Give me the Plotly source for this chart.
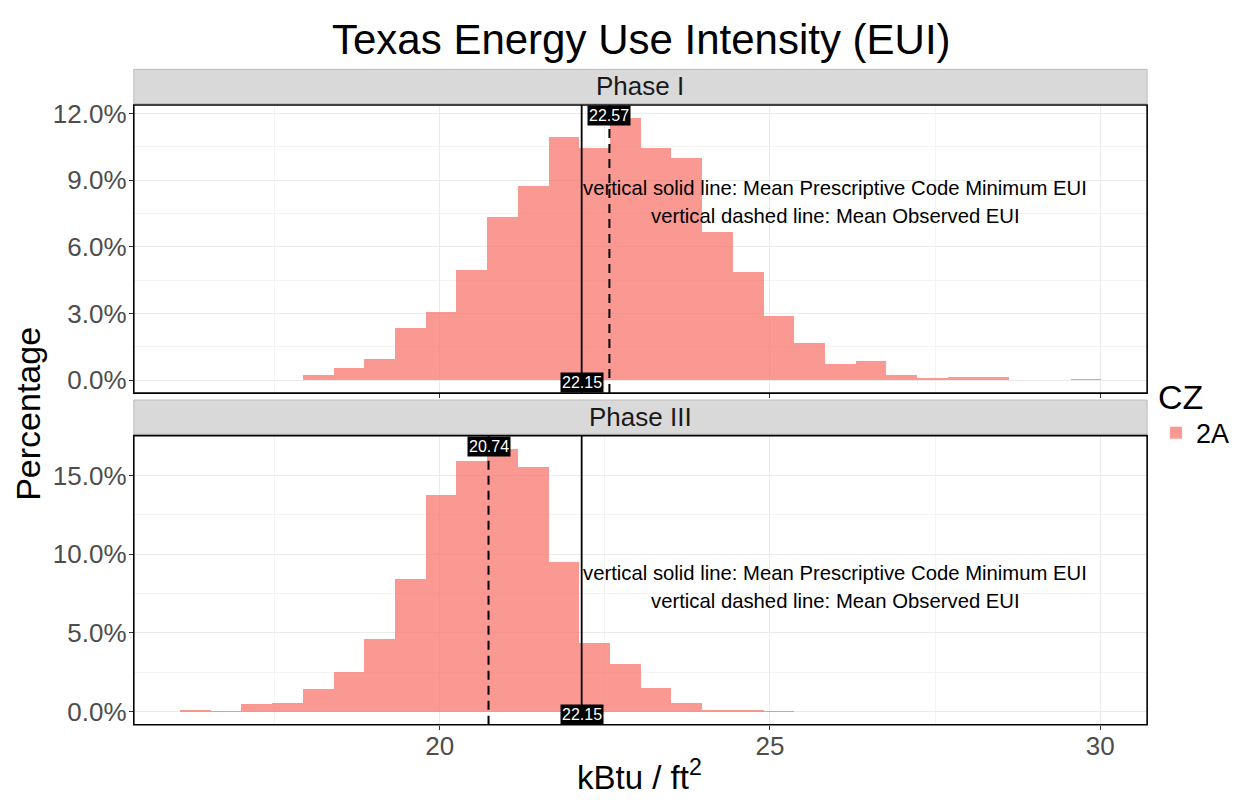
import plotly.graph_objects as go
from plotly.subplots import make_subplots

# ---- data ----
bin_centers = [16.298, 16.763, 17.228, 17.693, 18.158, 18.623, 19.088, 19.553, 20.018, 20.483,
               20.948, 21.413, 21.878, 22.343, 22.808, 23.273, 23.738, 24.203, 24.668, 25.133,
               25.598, 26.063, 26.528, 26.993, 27.458, 27.923, 28.388, 28.853, 29.318, 29.783]
bin_width = 0.465

phase1_pct = [0, 0, 0, 0, 0.21, 0.54, 0.94, 2.35, 3.08, 4.94,
              7.33, 8.73, 10.94, 10.46, 11.80, 10.47, 9.99, 6.67, 4.87, 2.88,
              1.65, 0.74, 0.87, 0.21, 0.07, 0.15, 0.15, 0, 0, 0.06]
phase3_pct = [0.13, 0.06, 0.50, 0.54, 1.46, 2.51, 4.66, 8.44, 13.81, 15.97,
              16.70, 15.57, 9.51, 4.39, 3.05, 1.50, 0.59, 0.10, 0.10, 0.05,
              0, 0, 0, 0, 0, 0, 0, 0, 0, 0]

panel_names = ["Phase I", "Phase III"]
code_min_eui = [22.15, 22.15]
observed_eui = [22.57, 20.74]
y_ticks_p1 = [0, 0.03, 0.06, 0.09, 0.12]
y_ticks_p3 = [0, 0.05, 0.10, 0.15]
x_ticks = [20, 25, 30]
legend_title = "CZ"
series_name = "2A"
title = "Texas Energy Use Intensity (EUI)"
note1 = "vertical solid line: Mean Prescriptive Code Minimum EUI"
note2 = "vertical dashed line: Mean Observed EUI"

FONT = "Liberation Sans, Arial, Helvetica, sans-serif"
BAR = "rgba(248,118,109,0.75)"
GRID = "#EBEBEB"
W, H = 1235, 800

fig = make_subplots(rows=2, cols=1, shared_xaxes=False)

fig.add_trace(go.Bar(x=bin_centers, y=[v / 100 for v in phase1_pct], width=bin_width,
                     marker=dict(color=BAR, line=dict(width=0)), name=series_name,
                     legendgroup="cz", showlegend=True), row=1, col=1)
fig.add_trace(go.Bar(x=bin_centers, y=[v / 100 for v in phase3_pct], width=bin_width,
                     marker=dict(color=BAR, line=dict(width=0)), name=series_name,
                     legendgroup="cz", showlegend=False), row=2, col=1)

px_l, px_r = 134, 1149
xdom = [px_l / W, px_r / W]
top_dom = [1 - 391 / H, 1 - 100 / H]
bot_dom = [1 - 726 / H, 1 - 434 / H]

xcommon = dict(range=[15.37, 30.71], tickvals=x_ticks, showgrid=True, gridcolor=GRID, gridwidth=1,
               minor=dict(dtick=2.5, tick0=0, showgrid=True, gridcolor="#F3F3F3", gridwidth=0.8),
               zeroline=False, showline=False, ticks="outside", ticklen=4, tickcolor="#333333",
               tickfont=dict(family=FONT, size=26, color="#4D4D4D"), domain=xdom)
fig.update_layout(xaxis=dict(**xcommon, showticklabels=False),
                  xaxis2=dict(**xcommon, showticklabels=True, ticklabelstandoff=-6))

ycommon = dict(showgrid=True, gridcolor=GRID, gridwidth=1, zeroline=False, showline=False,
               ticks="outside", ticklen=4, tickcolor="#333333", tickformat=".1%",
               ticklabelstandoff=-3,
               tickfont=dict(family=FONT, size=26, color="#4D4D4D"))
fig.update_layout(
    yaxis=dict(**ycommon, range=[-0.0059, 0.1239], tickvals=y_ticks_p1, domain=top_dom,
               minor=dict(tickvals=[0.015, 0.045, 0.075, 0.105], showgrid=True, gridcolor="#F3F3F3", gridwidth=0.8, ticks="")),
    yaxis2=dict(**ycommon, range=[-0.00835, 0.17535], tickvals=y_ticks_p3, domain=bot_dom,
                minor=dict(tickvals=[0.025, 0.075, 0.125], showgrid=True, gridcolor="#F3F3F3", gridwidth=0.8, ticks="")),
)

shapes = []
annotations = []
panels = [("x", "y", top_dom), ("x2", "y2", bot_dom)]
for i, (xa, ya, dom) in enumerate(panels):
    # strip
    shapes.append(dict(type="rect", xref="paper", yref="paper", x0=xdom[0], x1=xdom[1],
                       y0=dom[1] + 1.5 / H, y1=dom[1] + 36 / H, fillcolor="#D9D9D9",
                       line=dict(color="#BDBDBD", width=1), layer="below"))
    annotations.append(dict(text=panel_names[i], xref="paper", yref="paper",
                            x=(xdom[0] + xdom[1]) / 2, y=dom[1] + 19 / H, showarrow=False,
                            xanchor="center", yanchor="middle",
                            font=dict(family=FONT, size=26, color="#1A1A1A")))
    # vertical lines
    shapes.append(dict(type="line", xref=xa, yref=f"{ya} domain", x0=code_min_eui[i], x1=code_min_eui[i],
                       y0=0, y1=1, line=dict(color="black", width=1.8)))
    shapes.append(dict(type="line", xref=xa, yref=f"{ya} domain", x0=observed_eui[i], x1=observed_eui[i],
                       y0=0, y1=1, line=dict(color="black", width=2, dash="9px,6px")))
    # panel border
    shapes.append(dict(type="rect", xref=f"{xa} domain", yref=f"{ya} domain", x0=0, x1=1, y0=0, y1=1,
                       line=dict(color="black", width=1.6), fillcolor="rgba(0,0,0,0)"))
    # value labels
    annotations.append(dict(text=f"{observed_eui[i]:.2f}", xref=xa, yref=f"{ya} domain",
                            x=observed_eui[i], y=1, xanchor="center", yanchor="top", showarrow=False,
                            bgcolor="black", borderpad=1, font=dict(family=FONT, size=16, color="white")))
    annotations.append(dict(text=f"{code_min_eui[i]:.2f}", xref=xa, yref=f"{ya} domain",
                            x=code_min_eui[i], y=0, xanchor="center", yanchor="bottom", showarrow=False,
                            bgcolor="black", borderpad=1, font=dict(family=FONT, size=16, color="white")))

# notes
note_y = [(184, 212), (573, 601)]
for i, (xa, ya, dom) in enumerate(panels):
    for txt, ypx in zip([note1, note2], note_y[i]):
        annotations.append(dict(text=txt, xref=xa, yref="paper", x=25.99, y=1 - ypx / H,
                                xanchor="center", yanchor="middle", showarrow=False,
                                font=dict(family=FONT, size=20.3, color="black")))

# title and axis titles
annotations.append(dict(text=title, xref="paper", yref="paper", x=643 / W, y=1 - 34 / H,
                        xanchor="center", yanchor="middle", showarrow=False,
                        font=dict(family=FONT, size=42, color="black")))
annotations.append(dict(text="Percentage", xref="paper", yref="paper", x=28 / W, y=1 - 412 / H,
                        xanchor="center", yanchor="middle", textangle=-90, showarrow=False,
                        font=dict(family=FONT, size=34, color="black")))
annotations.append(dict(text="kBtu / ft<sup>2</sup>", xref="paper", yref="paper", x=641 / W, y=0,
                        xanchor="center", yanchor="bottom", showarrow=False,
                        font=dict(family=FONT, size=33, color="black")))

fig.update_layout(
    width=W, height=H, margin=dict(l=0, r=0, t=0, b=0),
    paper_bgcolor="white", plot_bgcolor="white",
    barmode="overlay", bargap=0,
    shapes=shapes, annotations=annotations,
    showlegend=True,
    legend=dict(x=1158 / W, y=1 - 362 / H, xanchor="left", yanchor="top",
                title=dict(text=legend_title, font=dict(family=FONT, size=34, color="black")),
                font=dict(family=FONT, size=27, color="black"), bgcolor="rgba(0,0,0,0)",
                itemwidth=30, tracegroupgap=0),
    font=dict(family=FONT),
)

fig.write_html("out.html")
